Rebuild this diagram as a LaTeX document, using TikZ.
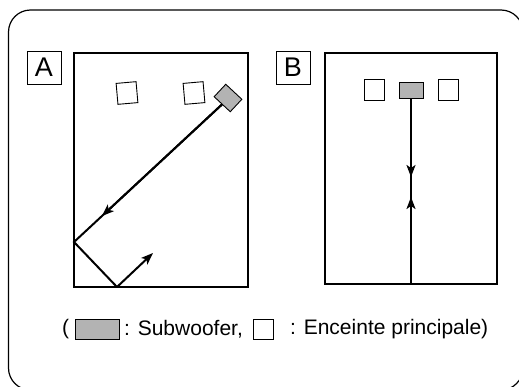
\documentclass[tikz,border=0pt]{standalone}
\usepackage{fontspec}
\setmainfont{Liberation Sans}
\usepackage{tikz}
\usetikzlibrary{arrows.meta}
\definecolor{subGray}{HTML}{B3B3B3}

\tikzset{
    room/.style={draw, line width=1.3pt},
    letterbox/.style={draw, line width=0.9pt, minimum width=34pt, minimum height=33pt, inner sep=0pt, font=\fontsize{27}{27}\selectfont},
    mainspk/.style={draw, fill=white, line width=0.9pt, minimum width=20pt, minimum height=21pt, inner sep=0pt},
    subspk/.style={draw, fill=subGray, line width=0.9pt, inner sep=0pt},
    wave/.style={line width=2pt},
    wavearrow/.style={line width=2pt, -{Stealth[length=12pt, width=9pt, inset=3pt]}},
    legendtext/.style={inner sep=0pt, anchor=west, font=\fontsize{21}{21}\selectfont}
}

\begin{document}
\begin{tikzpicture}[x=1pt, y=-1pt]
    \useasboundingbox (0,0) rectangle (519,386);
    \clip (0,0) rectangle (519,386);
    \draw[line width=1.2pt, rounded corners=22pt] (8.5,10) rectangle (523,390);

    % room A
    \node[letterbox] (labA) at (44,67.5) {A};
    \draw[room] (74,53) rectangle (248,287);
    \node[mainspk, rotate=5] (spkA1) at (127,93) {};
    \node[mainspk, rotate=5] (spkA2) at (194,93) {};
    \node[subspk, minimum width=22pt, minimum height=17pt, rotate=-43] (subA) at (228,98) {};
    \coordinate (wallA) at (74,242);
    \coordinate (floorA) at (117,287);
    \coordinate (midA) at (102,216);
    \coordinate (endA) at (153,253);
    \draw[wave] (subA.south) -- (wallA) -- (floorA);
    \draw[wavearrow] (subA.south) -- (midA);
    \draw[wavearrow] (floorA) -- (endA);

    % room B
    \node[letterbox] (labB) at (293,67.5) {B};
    \draw[room] (325,53) rectangle (497,284);
    \node[mainspk] (spkB1) at (374,90) {};
    \node[subspk, minimum width=24pt, minimum height=16pt] (subB) at (411,90) {};
    \node[mainspk] (spkB2) at (448,90) {};
    \coordinate (floorB) at (411,284);
    \coordinate (downB) at (411,177);
    \coordinate (upB) at (411,197);
    \draw[wave] (subB.south) -- (floorB);
    \draw[wavearrow] (subB.south) -- (downB);
    \draw[wavearrow] (floorB) -- (upB);

    % legend
    \node[legendtext] (open) at (62,329) {(};
    \node[subspk, minimum width=44pt, minimum height=20pt] (legSub) at (97,329) {};
    \node[legendtext] (txtSub) at (124,329) {: Subwoofer,};
    \node[mainspk, minimum height=20pt] (legMain) at (263,329) {};
    \node[legendtext] (txtMain) at (290,329) {: Enceinte principale)};
\end{tikzpicture}
\end{document}
